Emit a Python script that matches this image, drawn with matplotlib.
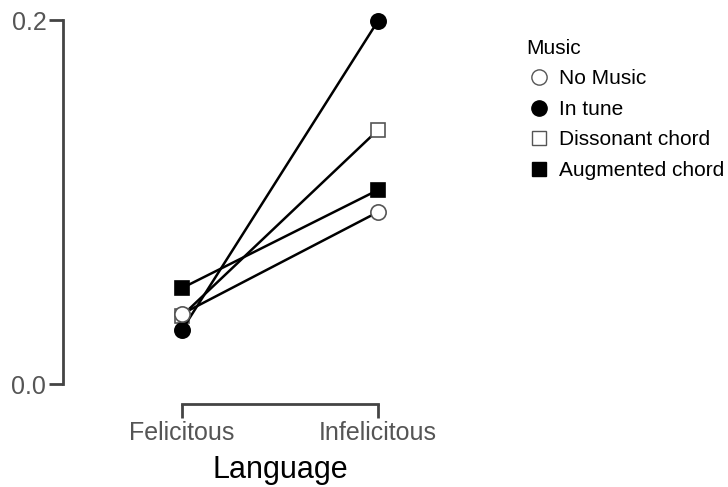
import matplotlib
matplotlib.use("Agg")
import matplotlib.pyplot as plt
from matplotlib.lines import Line2D

plt.rcParams['font.family'] = ['Liberation Sans', 'DejaVu Sans']

categories = ["Felicitous", "Infelicitous"]
series_names = ["No Music", "In tune", "Dissonant chord", "Augmented chord"]
no_music = [0.0385, 0.0945]
in_tune = [0.0297, 0.1995]
dissonant = [0.0375, 0.1396]
augmented = [0.0527, 0.1066]
y_ticks = [0.0, 0.2]
y_tick_labels = ["0.0", "0.2"]

W, H, DPI = 728, 487, 100
fig = plt.figure(figsize=(W / DPI, H / DPI), dpi=DPI)

# axes placed in pixel terms: left spine at x=63, y range 0..0.2 spans 384..20 px
x0, x1 = 182, 378
left_px, right_px = 63, 440
top_px, bottom_px = 20, 384
ax = fig.add_axes([left_px / W, 1 - bottom_px / H,
                   (right_px - left_px) / W, (bottom_px - top_px) / H])
ppu = (x1 - x0)
ax.set_xlim((left_px - x0) / ppu, (right_px - x0) / ppu)
ax.set_ylim(0, 0.2)

xs = list(range(len(categories)))
styles = {
    "In tune": dict(marker='o', mfc='black', mec='black', ms=11),
    "Dissonant chord": dict(marker='s', mfc='white', mec='#555555', ms=10),
    "Augmented chord": dict(marker='s', mfc='black', mec='black', ms=10),
    "No Music": dict(marker='o', mfc='white', mec='#555555', ms=11),
}
data = {"No Music": no_music, "In tune": in_tune,
        "Dissonant chord": dissonant, "Augmented chord": augmented}
for z, name in enumerate(["Dissonant chord", "In tune", "Augmented chord", "No Music"]):
    st = styles[name]
    ax.plot(xs, data[name], color='black', lw=1.8, mew=1.2,
            clip_on=False, zorder=3 + z, **st)

for s in ['top', 'right']:
    ax.spines[s].set_visible(False)
ax.spines['left'].set_bounds(0, 0.2)
ax.spines['bottom'].set_bounds(0, 1)
ax.spines['bottom'].set_position(('outward', 20 * 72 / DPI))
for s in ['left', 'bottom']:
    ax.spines[s].set_linewidth(2)
    ax.spines[s].set_color('#444444')

ax.set_yticks(y_ticks)
ax.set_yticklabels(y_tick_labels)
ax.set_xticks(xs)
ax.set_xticklabels(categories)
ax.tick_params(axis='both', direction='out', length=10, width=2, color='#444444',
               labelsize=18, labelcolor='#555555')
ax.tick_params(axis='y', pad=2)
ax.tick_params(axis='x', pad=2)
ax.set_xlabel("Language", fontsize=22, color='black')
ax.xaxis.set_label_coords((280 - left_px) / (right_px - left_px), -0.195)

handles = [Line2D([], [], linestyle='none', markersize=st['ms'], mew=1.0,
                  marker=st['marker'], mfc=st['mfc'], mec=st['mec'])
           for st in (styles[n] for n in series_names)]
leg = fig.legend(handles, series_names, title="Music", loc='upper left',
                 bbox_to_anchor=(526 / W, 1 - 39 / H), frameon=False,
                 fontsize=15, title_fontsize=15, handlelength=1.2,
                 handletextpad=0.4, labelspacing=0.55, borderpad=0,
                 borderaxespad=0)
leg._legend_box.align = "left"

fig.savefig("out.png", dpi=DPI)
